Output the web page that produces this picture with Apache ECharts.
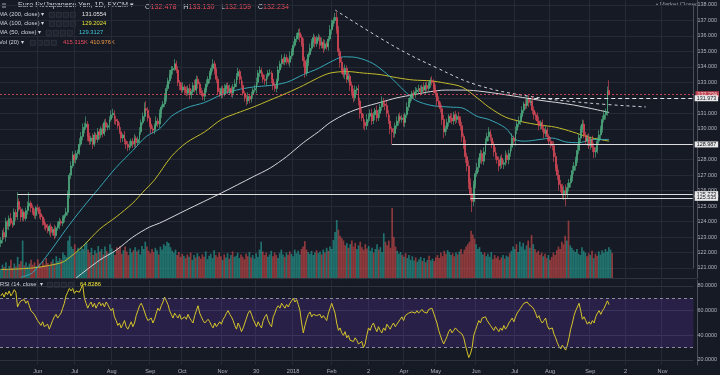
<!DOCTYPE html>
<html><head><meta charset="utf-8">
<script src="https://cdn.jsdelivr.net/npm/echarts@6.0.0/dist/echarts.min.js"></script>
<style>html,body{margin:0;padding:0;background:#161a25;}#c{width:720px;height:375px;}</style>
</head><body><div id="c"></div><script>
// ---- data ----
const firstOpen = 122.6;
const closes = [
122.8,123.3,123.0,124.0,123.7,124.2,123.9,123.8,124.6,124.3,
125.3,124.8,124.3,124.6,124.2,124.7,125.0,125.2,124.9,124.6,
124.4,124.9,124.8,124.5,124.3,124.0,123.8,123.6,123.4,123.7,
123.3,123.5,123.1,123.6,123.8,124.0,123.9,124.2,124.4,124.6,
125.8,127.0,127.6,128.3,128.0,128.4,128.5,129.0,129.5,129.9,
130.1,130.3,129.5,129.2,129.4,129.0,129.6,129.3,129.8,129.6,
130.0,129.7,130.4,130.1,130.2,130.6,130.9,131.0,130.6,130.5,
130.2,129.8,129.4,129.6,129.2,129.0,128.8,128.9,129.2,129.0,
129.4,129.1,129.3,129.8,130.4,130.8,131.3,131.2,130.7,130.3,
130.0,129.9,130.2,130.5,130.3,131.0,131.4,131.6,132.0,132.6,
133.1,133.5,133.8,133.9,134.2,133.8,133.0,132.8,132.5,132.7,
132.5,132.3,132.6,132.2,132.4,132.8,132.5,133.2,132.9,132.4,
132.3,132.1,132.5,132.9,133.2,133.6,133.9,134.2,133.8,133.2,
132.4,132.2,132.6,132.3,132.6,132.8,132.4,132.6,132.3,132.7,
132.9,133.4,133.7,133.2,132.8,132.3,132.0,131.8,132.1,131.9,
132.2,132.5,132.6,133.0,133.6,133.8,133.5,133.2,133.1,133.4,
133.6,133.6,133.2,132.8,132.6,133.1,133.8,134.2,134.5,134.3,
134.6,134.4,134.3,134.7,135.0,135.4,135.8,136.0,136.2,135.9,
135.5,134.4,133.6,134.3,134.8,135.2,135.6,135.9,135.5,135.8,
135.9,135.4,135.6,135.2,135.5,135.3,135.8,136.4,136.8,137.0,
137.2,136.4,135.0,134.3,133.8,133.5,133.9,133.2,133.4,132.8,
132.4,132.0,132.5,132.6,131.8,131.0,130.7,130.4,130.2,130.6,
130.8,131.0,130.5,130.9,131.2,130.7,131.0,131.4,131.8,131.6,
131.5,131.0,130.5,130.0,129.8,129.7,130.2,130.5,130.8,130.6,
130.7,130.4,130.9,131.4,131.8,132.0,132.3,132.2,132.4,132.5,
132.6,132.4,132.7,132.5,132.8,132.6,132.9,133.1,133.0,132.6,
132.3,131.8,131.6,131.3,130.6,129.8,130.0,130.4,130.8,130.7,
130.5,130.9,130.6,130.8,130.6,130.2,129.5,129.0,128.2,127.6,
126.5,125.8,125.3,126.4,127.1,127.5,128.0,128.4,127.9,128.5,
129.2,129.5,129.8,129.4,129.0,128.5,128.2,128.0,127.6,128.1,
127.7,127.8,128.3,128.0,128.4,128.8,129.4,129.2,129.9,130.3,
130.5,130.8,131.2,131.6,131.5,131.9,131.7,131.8,131.2,130.9,
130.8,130.5,130.2,130.4,130.0,129.7,129.9,129.5,129.2,129.0,
128.9,128.2,127.5,127.0,126.4,126.2,125.8,126.0,125.8,126.2,
126.5,126.8,127.3,127.6,128.0,128.6,129.4,130.0,130.3,129.6,
129.2,129.4,128.9,129.3,128.8,128.5,128.6,129.2,129.6,130.0,
130.6,130.9,131.1,132.478,132.234];
// wick sizes in hundredths of a yen
const upWick = [
20,15,30,25,10,20,35,15,25,20, 60,20,15,25,10,20,30,70,15,20,
25,10,20,15,30,10,20,15,25,10, 20,15,30,10,20,25,15,20,10,30,
20,15,30,25,10,20,15,40,30,45, 30,50,20,25,15,30,20,15,25,20,
15,30,20,25,15,20,30,30,20,25, 15,20,30,10,25,15,20,30,15,20,
25,15,20,30,20,25,40,50,20,15, 25,20,15,30,20,25,15,20,30,25,
20,30,25,15,30,20,25,15,20,30, 15,25,20,30,15,20,35,25,20,15,
25,20,15,30,20,15,25,30,20,15, 20,25,15,20,30,15,20,25,15,20,
30,20,25,15,20,30,15,20,25,15, 20,15,25,30,20,25,15,20,30,15,
20,25,15,30,20,15,25,20,30,15, 25,20,15,30,20,25,15,20,25,30,
20,35,25,20,15,30,20,25,15,20, 25,15,30,20,25,15,20,30,25,20,
30,35,25,20,30,15,25,20,30,15, 25,20,30,15,25,20,30,25,20,35,
20,25,30,20,15,30,25,20,30,20, 25,30,20,40,15,25,20,30,15,25,
20,25,15,30,20,25,15,20,30,15, 25,20,15,30,20,25,15,20,30,20,
25,20,30,15,25,30,20,25,15,20, 30,20,25,15,30,20,25,20,30,25,
35,30,40,25,20,30,15,25,20,30, 20,25,30,15,25,20,30,25,20,15,
25,20,30,15,25,20,30,15,25,20, 30,20,25,15,30,20,25,20,30,25,
20,25,30,15,20,25,30,20,15,25, 20,30,25,20,35,30,25,30,40,30,
25,20,30,25,20,35,25,20,30,25, 20,25,30,20,25,30,20,25,30,20,
25,30,20,25,65.2];
const downWick = [
25,20,15,30,20,25,15,20,10,25, 20,15,30,25,20,15,25,20,30,15,
20,25,15,30,20,25,30,20,15,25, 30,20,25,15,20,30,15,20,25,15,
20,30,25,15,20,25,30,20,15,25, 20,15,30,25,20,30,15,25,20,30,
20,25,15,30,20,25,15,20,30,25, 20,15,30,25,20,30,25,20,15,25,
20,30,15,25,20,15,30,20,25,20, 30,20,25,15,20,25,30,15,20,25,
15,20,25,30,15,20,25,30,20,15, 25,20,15,30,25,20,15,25,30,20,
20,25,30,15,20,25,15,20,30,25, 20,15,25,30,20,25,15,20,25,30,
15,20,25,30,20,15,25,30,20,25, 20,25,15,30,20,25,15,20,25,30,
20,15,25,30,20,25,15,20,25,15, 20,25,15,30,20,25,15,20,25,30,
20,40,30,20,25,15,20,30,25,20, 15,25,20,30,15,20,25,15,30,20,
20,25,30,35,25,20,30,25,20,35, 25,30,20,25,30,35,20,40,30,25,
20,30,25,20,35,25,20,30,25,20, 30,25,20,35,81,30,25,20,30,25,
20,25,30,20,25,15,20,25,20,15, 20,25,15,20,25,20,15,25,20,30,
25,30,20,25,35,40,25,20,25,30, 20,25,30,20,25,30,35,30,40,35,
40,45,69,30,25,20,30,25,20,25, 20,25,30,20,25,30,20,25,35,20,
25,30,20,25,30,20,25,20,30,25, 20,25,15,20,25,20,30,20,25,30,
25,20,30,25,20,30,25,30,20,25, 30,35,25,30,40,30,35,40,80,30,
25,30,20,25,30,20,25,30,25,20, 25,30,20,25,30,40,35,20,25,30,
25,20,30,25,7.5];
// volume, thousands
const volumes = [
150,220,180,260,140,200,300,170,240,190, 350,230,280,620,210,260,190,240,300,220,
260,200,310,240,190,280,220,330,250,200, 270,310,240,360,280,330,300,420,380,350,
620,700,520,480,560,430,500,450,520,480, 560,600,470,420,500,380,460,410,530,440,
480,390,520,450,410,560,490,430,380,510, 470,530,400,460,520,440,380,490,420,460,
510,440,470,390,530,480,600,520,450,410, 480,430,500,460,390,520,470,560,530,600,
580,510,450,420,470,380,430,350,400,370, 330,390,350,420,300,380,340,410,360,320,
390,350,440,310,370,400,330,460,380,350, 420,360,300,390,340,410,320,380,440,350,
370,420,330,390,350,310,400,360,430,340, 380,320,410,350,470,600,440,380,420,350,
390,450,360,420,380,330,410,470,390,350, 420,380,440,400,360,470,410,450,390,480,
520,610,470,430,400,450,380,420,460,410, 440,390,470,420,500,450,520,480,630,760,
960,800,700,660,620,540,580,500,560,620, 520,580,480,540,600,510,470,560,490,530,
450,500,420,480,560,470,510,430,740,600, 540,620,500,1160,680,520,450,400,430,380,
350,410,330,380,300,360,290,340,270,310, 350,280,330,260,300,370,290,320,280,340,
380,330,420,360,450,400,460,430,380,410, 360,420,390,440,480,400,470,520,560,600,
780,720,650,560,480,510,430,390,420,360, 400,350,430,310,380,330,360,300,340,380,
320,370,350,410,450,520,480,560,430,600, 520,580,470,540,620,500,710,560,480,420,
450,380,420,360,400,330,380,300,350,420, 380,460,520,480,600,560,700,620,950,540,
500,460,430,480,400,380,510,450,420,360, 410,380,450,330,400,370,440,390,460,420,
480,440,510,470,415.315];
const rsi = [
72,74,71,75,73,76,72,74,77,75, 63,66,68,67,69,66,68,64,60,59,
57,58,52,50,48,51,47,46,49,45, 46,52,55,57,54,56,58,62,66,72,
75,78,76,78,74,76,77,75,78,81, 70,66,62,65,67,63,66,62,65,67,
64,66,63,67,65,62,60,62,55,52, 48,50,46,49,52,47,45,48,51,47,
50,56,60,64,66,63,62,55,52,51, 54,50,53,58,62,60,64,67,71,68,
65,60,57,54,58,56,54,57,53,52, 55,53,57,54,52,50,56,60,64,58,
55,52,50,49,53,51,48,46,50,47, 48,51,49,53,55,58,60,57,55,52,
48,45,50,47,43,46,50,54,58,60, 57,53,50,47,51,48,46,52,55,57,
52,49,47,55,58,62,64,62,66,64, 62,65,63,66,68,70,67,69,65,60,
50,42,48,53,57,59,55,57,58,56, 55,57,54,56,54,52,58,62,66,65,
58,50,44,46,42,40,43,38,40,36, 37,35,38,36,33,34,35,30,33,40,
46,44,48,50,46,43,47,44,42,46, 44,49,48,45,48,50,47,49,48,53,
55,52,56,55,58,57,59,60,58,60, 58,59,61,59,60,58,61,60,62,58,
54,50,44,40,36,33,34,39,43,45, 42,44,46,45,43,44,41,38,32,27,
22,25,30,40,44,48,52,50,54,53, 55,52,50,48,46,44,47,45,43,46,
44,48,45,47,50,52,54,51,55,58, 60,62,64,66,67,67,65,66,63,61,
58,54,56,52,50,52,54,48,45,44, 46,41,38,34,31,29,32,30,28,32,
38,45,50,56,60,63,66,60,53,55, 52,49,51,49,52,50,55,58,60,57,
60,62,63,68,64.8286];
// moving averages: [bar index, value]
const ma200 = [[45,120.35],[59,121.5],[69,122.15],[79,123.0],[89,123.65],[95,123.9],[111,124.75],[132,125.85],[151,126.9],[161,127.45],[171,128.2],[181,129.1],[190,129.8],[197,130.4],[207,131.0],[217,131.4],[227,131.7],[237,132.0],[247,132.2],[257,132.4],[266,132.5],[276,132.5],[285,132.45],[302,132.2],[322,131.85],[342,131.55],[364,131.0554]];
const ma100 = [[0,120.9],[19,121.0],[35,121.3],[39,121.5],[49,122.4],[59,123.5],[69,124.3],[79,125.2],[85,125.9],[92,126.7],[102,128.2],[111,129.1],[122,129.8],[132,130.6],[141,131.0],[151,131.4],[161,131.85],[171,132.3],[181,132.8],[190,133.3],[197,133.6],[207,133.7],[217,133.6],[227,133.5],[237,133.3],[247,133.15],[257,133.1],[266,132.95],[276,132.7],[285,132.0],[292,131.4],[302,130.75],[312,130.45],[322,130.25],[332,130.1],[342,129.8],[352,129.45],[364,129.2024]];
const ma50 = [[12,120.4],[19,120.7],[29,122.0],[39,123.5],[49,124.9],[59,126.2],[69,127.5],[79,128.6],[87,129.5],[95,130.0],[102,130.8],[111,131.35],[122,131.7],[132,132.2],[141,132.5],[151,132.7],[161,132.8],[171,133.0],[181,133.5],[190,133.9],[197,134.3],[205,134.65],[213,134.6],[223,134.2],[233,133.35],[241,132.5],[248,131.85],[258,131.5],[269,131.4],[276,131.35],[285,130.8],[292,130.6],[302,130.05],[308,129.3],[314,129.2],[322,129.3],[330,129.4],[338,129.15],[346,129.1],[354,129.3],[364,129.3127]];
const trendLine = [[200,137.68],[236,135.29],[261,133.93],[285,132.83],[315,132.12],[351,131.67],[386,131.41]];
// horizontal levels: [start bar, price]
const levels = [[234,128.987],[10,125.773],[281,125.535]];
const resistance = [315,131.973];
const lastPrice = 132.234;
const ohlc = {O:'132.478', H:'133.130', L:'132.159', C:'132.234'};
const maLegend = ['131.0554','129.2024','129.3127'];
const volLegend = ['415.315K','410.976K'];
const rsiLegend = '64.8286';
const tickIdx = [22,44,66,89,108,132,152,174,197,219,240,259,283,306,327,351,372,394];
const tickLabels = ['Jun','Jul','Aug','Sep','Oct','Nov','30','2018','Feb','2','Apr','May','Jun','Jul','Aug','Sep','2','Nov'];
const N = 415;

// ---- build ----
const cats = Array.from({length:N}, (_, i) => String(i));
const UP = '#53b987', DN = '#eb4d5c';
const candles = closes.map((c, i) => {
  const o = i ? closes[i-1] : firstOpen;
  return [o, c, +(Math.min(o,c) - downWick[i]/100).toFixed(3), +(Math.max(o,c) + upWick[i]/100).toFixed(3)];
});
const volData = volumes.map((v, i) => ({value: v, itemStyle: {color: candles[i][1] >= candles[i][0] ? 'rgba(38,166,154,0.62)' : 'rgba(239,83,80,0.55)'}}));
const isTick = (i) => tickIdx.indexOf(i) >= 0;
const FONT = 'Liberation Sans';
const GRID = '#262a36';
const AX = '#b2b5be';

const boxLabel = (txt) => ({show: true, position: 'end', distance: 2, formatter: txt, color: '#131722', backgroundColor: '#e8e8e8', padding: [1,2,0,2], fontSize: 5.4, fontFamily: FONT});
const levelLines = levels.map(([s, p]) => [
  {coord: [String(s), p], lineStyle: {color: '#dcdcdc', width: 1.2, type: 'solid'}, label: boxLabel(p.toFixed(3))},
  {coord: [String(N-1), p]}
]);

const chart = echarts.init(document.getElementById('c'), null, {renderer: 'canvas'});
const icons = [];
[[49,15],[49,24],[46,33],[30,43],[47,285]].forEach(([x, y]) => {
  for (let k = 0; k < 4; k++) icons.push({type: 'rect', left: x + k*7, top: y - 3, shape: {width: 5, height: 5}, style: {fill: '#1e222d', stroke: '#3c404b', lineWidth: 0.6}});
});
const txt = (x, y, text, fill, size, extra) => Object.assign({type: 'text', left: x, top: y - size/2 - 0.5, style: {text, fill, fontSize: size, fontFamily: FONT}}, extra || {});

chart.setOption({
  backgroundColor: '#161a25',
  animation: false,
  grid: [
    {left: 0, right: 23, top: 5, height: 263},
    {left: 0, right: 23, top: 0, height: 278},
    {left: 0, right: 23, top: 280, height: 85},
    {left: 0, right: 23, top: 286, height: 74}
  ],
  xAxis: [
    {gridIndex: 0, type: 'category', data: cats, show: false},
    {gridIndex: 1, type: 'category', data: cats, axisLabel: {show: false}, axisTick: {show: false},
     axisLine: {show: true, lineStyle: {color: '#30343f'}},
     splitLine: {show: true, interval: (i) => isTick(i), lineStyle: {color: GRID, width: 1}}},
    {gridIndex: 2, type: 'category', data: cats, axisTick: {show: false}, axisLine: {show: false},
     splitLine: {show: true, interval: (i) => isTick(i), lineStyle: {color: GRID, width: 1}},
     axisLabel: {interval: (i) => isTick(i), formatter: (v) => tickLabels[tickIdx.indexOf(+v)] || '', color: AX, fontSize: 5.6, fontFamily: FONT, margin: 3}},
    {gridIndex: 3, type: 'category', data: cats, show: false}
  ],
  yAxis: [
    {gridIndex: 0, type: 'value', position: 'right', min: 121, max: 138, interval: 1,
     axisLine: {show: true, lineStyle: {color: '#4a4e59'}}, axisTick: {show: false},
     axisLabel: {formatter: (v) => v.toFixed(3), color: AX, fontSize: 5.4, fontFamily: FONT, margin: 4},
     splitLine: {lineStyle: {color: GRID}}},
    {gridIndex: 1, type: 'value', min: 0, max: 4600, axisLabel: {show: false}, splitLine: {show: false}, axisTick: {show: false},
     position: 'right', axisLine: {show: true, lineStyle: {color: '#4a4e59'}}},
    {gridIndex: 2, type: 'value', position: 'right', axisLabel: {show: false}, splitLine: {show: false}, axisTick: {show: false},
     axisLine: {show: true, lineStyle: {color: '#4a4e59'}}},
    {gridIndex: 3, type: 'value', position: 'right', min: 20, max: 80, interval: 20,
     axisLine: {show: false}, axisTick: {show: false},
     axisLabel: {formatter: (v) => v.toFixed(4), color: AX, fontSize: 5.4, fontFamily: FONT, margin: 4},
     splitLine: {lineStyle: {color: '#2e3240'}}}
  ],
  series: [
    {type: 'bar', name: 'Vol', xAxisIndex: 1, yAxisIndex: 1, data: volData, barWidth: '100%', z: 1},
    {type: 'line', name: 'MA200', xAxisIndex: 0, yAxisIndex: 0, data: ma200, showSymbol: false, smooth: 0.3, clip: false,
     lineStyle: {color: '#d6d6da', width: 1}, z: 3},
    {type: 'line', name: 'MA100', xAxisIndex: 0, yAxisIndex: 0, data: ma100, showSymbol: false, smooth: 0.3, clip: false,
     lineStyle: {color: '#c2bb2c', width: 1}, z: 3},
    {type: 'line', name: 'MA50', xAxisIndex: 0, yAxisIndex: 0, data: ma50, showSymbol: false, smooth: 0.3, clip: false,
     lineStyle: {color: '#35a6b5', width: 1}, z: 3},
    {type: 'line', name: 'Trend', xAxisIndex: 0, yAxisIndex: 0, data: trendLine, showSymbol: false, smooth: 0.4, clip: false,
     lineStyle: {color: '#cfd1d6', width: 1, type: [3, 3]}, z: 3},
    {type: 'candlestick', name: 'EURJPY', xAxisIndex: 0, yAxisIndex: 0, data: candles, barWidth: 1.4, z: 4,
     itemStyle: {color: UP, color0: DN, borderColor: UP, borderColor0: DN, borderWidth: 0.6},
     markLine: {symbol: ['none','none'], silent: true, animation: false,
       data: [
         {yAxis: lastPrice, lineStyle: {color: '#eb4d5c', width: 1, type: [2, 2], opacity: 0.8},
          label: {show: true, position: 'end', distance: 2, formatter: lastPrice.toFixed(3), color: '#ffffff', backgroundColor: '#eb4d5c', padding: [1,2,0,2], fontSize: 5.4, fontFamily: FONT}},
         [{coord: [String(resistance[0]), resistance[1]], lineStyle: {color: '#e4e4e4', width: 1, type: [4, 3]}, label: boxLabel(resistance[1].toFixed(3))},
          {coord: [String(N-1), resistance[1]]}]
       ].concat(levelLines)}},
    {type: 'line', name: 'RSI', xAxisIndex: 3, yAxisIndex: 3, data: rsi, showSymbol: false, clip: false,
     lineStyle: {color: '#d6c52a', width: 1}, z: 3,
     markArea: {silent: true, itemStyle: {color: 'rgba(120,60,220,0.18)'}, data: [[{yAxis: 70}, {yAxis: 30}]]},
     markLine: {symbol: ['none','none'], silent: true, label: {show: false},
       lineStyle: {color: '#8a8d96', width: 1, type: [3, 3]}, data: [{yAxis: 70}, {yAxis: 30}]}}
  ],
  graphic: [
    {type: 'rect', left: 2, top: 3, shape: {width: 4, height: 5}, style: {fill: '#5d606b'}},
    txt(18, 5.5, 'Euro Fx/Japanese Yen, 1D, FXCM ▾', '#d1d4dc', 7.2),
    {type: 'text', left: 145, top: 1.5, style: {text: '{k|O}{v|' + ohlc.O + '}  {k|H}{v|' + ohlc.H + '}  {k|L}{v|' + ohlc.L + '}  {k|C}{v|' + ohlc.C + '}',
      rich: {k: {fill: '#d1d4dc', fontSize: 7.2, fontFamily: FONT}, v: {fill: '#eb4d5c', fontSize: 7.2, fontFamily: FONT}}}},
    txt(-1, 15, 'MA (200, close) ▾', '#d1d4dc', 5.8),
    txt(82, 15, maLegend[0], '#e6e6e6', 5.8),
    txt(-1, 24, 'MA (100, close) ▾', '#d1d4dc', 5.8),
    txt(82, 24, maLegend[1], '#e6e337', 5.8),
    txt(-1, 33, 'MA (50, close) ▾', '#d1d4dc', 5.8),
    txt(79, 33, maLegend[2], '#3fc4d6', 5.8),
    txt(-1, 43, 'Vol (20) ▾', '#d1d4dc', 5.8),
    txt(63, 43, volLegend[0], '#eb4d5c', 5.8),
    txt(90, 43, volLegend[1], '#f39c4a', 5.8),
    txt(0, 285, 'RSI (14, close) ▾', '#d1d4dc', 5.8),
    txt(80, 285, rsiLegend, '#f2e93a', 5.8),
    txt(656, 5, '• Market Closed', '#9598a1', 6)
  ].concat(icons)
});
</script></body></html>
